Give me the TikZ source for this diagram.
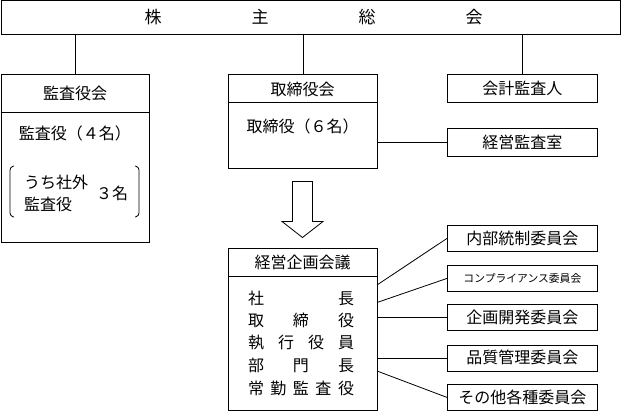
\documentclass[tikz,border=0pt]{standalone}
\usepackage{fontspec}
\setmainfont{Noto Sans CJK JP}
\newcommand\jfs[1]{\fontsize{#1}{#1}\selectfont}
\begin{document}
\begin{tikzpicture}[x=1pt,y=-1pt,
  box/.style={draw, line width=0.8pt, inner sep=0pt, anchor=north west},
  lbl/.style={inner sep=0pt, font=\jfs{16}},
  ln/.style={line width=0.8pt}]
\useasboundingbox (0,0) rectangle (621,412);
% boxes
\node[box, minimum width=619.5, minimum height=34] (top) at (0.5,0.5) {};
\node[box, minimum width=148.5, minimum height=168] (kansa) at (0.5,74) {};
\node[box, minimum width=149, minimum height=94] (tori) at (228,74) {};
\node[box, minimum width=150, minimum height=28] (kaikei) at (447,74) {};
\node[box, minimum width=150, minimum height=28] (kshitsu) at (447,128) {};
\node[box, minimum width=149, minimum height=162] (keiei) at (228,248) {};
\node[box, minimum width=150, minimum height=26] (c1) at (447,225) {};
\node[box, minimum width=150, minimum height=26] (c2) at (447,265) {};
\node[box, minimum width=150, minimum height=26] (c3) at (447,304) {};
\node[box, minimum width=150, minimum height=26] (c4) at (447,344.5) {};
\node[box, minimum width=150, minimum height=26] (c5) at (447,384) {};
% dividers
\draw[ln] (0.5,112) -- (149,112);
\draw[ln] (228,102) -- (377,102);
\draw[ln] (228,276) -- (377,276);
% texts
\node[inner sep=0pt, font=\jfs{17}] (tt) at (313.5,17.5) {株\hspace{90pt}主\hspace{90pt}総\hspace{90pt}会};
\node[lbl] (t1) at (75,93) {監査役会};
\node[lbl] (t2) at (75,133) {監査役（４名）};
\node[lbl, align=left, anchor=west] (t3) at (24,193) {うち社外\\[6pt]監査役};
\node[lbl] (t4) at (112,193) {３名};
\node[lbl] (t5) at (302.5,89) {取締役会};
\node[lbl] (t6) at (302.5,126) {取締役（６名）};
\node[lbl] (t7) at (kaikei.center) {会計監査人};
\node[lbl] (t8) at (kshitsu.center) {経営監査室};
\node[lbl] (t9) at (302.5,262) {経営企画会議};
\node[lbl] (r1) at (301,298) {\hbox to 106pt{社\hfill 長}};
\node[lbl] (r2) at (301,320.5) {\hbox to 106pt{取\hfill 締\hfill 役}};
\node[lbl] (r3) at (301,343) {\hbox to 106pt{執\hfill 行\hfill 役\hfill 員}};
\node[lbl] (r4) at (301,365.5) {\hbox to 106pt{部\hfill 門\hfill 長}};
\node[lbl] (r5) at (301,388) {\hbox to 106pt{常\hfill 勤\hfill 監\hfill 査\hfill 役}};
\node[lbl] (u1) at (c1.center) {内部統制委員会};
\node[lbl, font=\jfs{10.8}] (u2) at (c2.center) {コンプライアンス委員会};
\node[lbl] (u3) at (c3.center) {企画開発委員会};
\node[lbl] (u4) at (c4.center) {品質管理委員会};
\node[lbl] (u5) at (c5.center) {その他各種委員会};
% brackets
\draw[ln, rounded corners=3pt] (14,166) -- (10,167) -- (10,216) -- (14,217);
\draw[ln, rounded corners=3pt] (135,166) -- (139,167) -- (139,216) -- (135,217);
% connectors
\draw[ln] (top.south -| kansa.north) -- (kansa.north);
\draw[ln] (top.south -| tori.north) -- (tori.north);
\draw[ln] (top.south -| kaikei.north) -- (kaikei.north);
\draw[ln] (tori.east |- kshitsu.west) -- (kshitsu.west);
\coordinate (k1) at (377,285);
\coordinate (k2) at (377,302.5);
\coordinate (k5) at (377,371);
\draw[ln] (k1) -- (c1.west);
\draw[ln] (k2) -- (c2.west);
\draw[ln] (keiei.east |- c3.west) -- (c3.west);
\draw[ln] (keiei.east |- c4.west) -- (c4.west);
\draw[ln] (k5) -- (c5.west);
% big arrow
\draw[ln, fill=white] (292.5,181.5) -- (312.5,181.5) -- (312.5,221.5) -- (323,221.5)
  -- (302.5,237.5) -- (282,221.5) -- (292.5,221.5) -- cycle;
\end{tikzpicture}
\end{document}
